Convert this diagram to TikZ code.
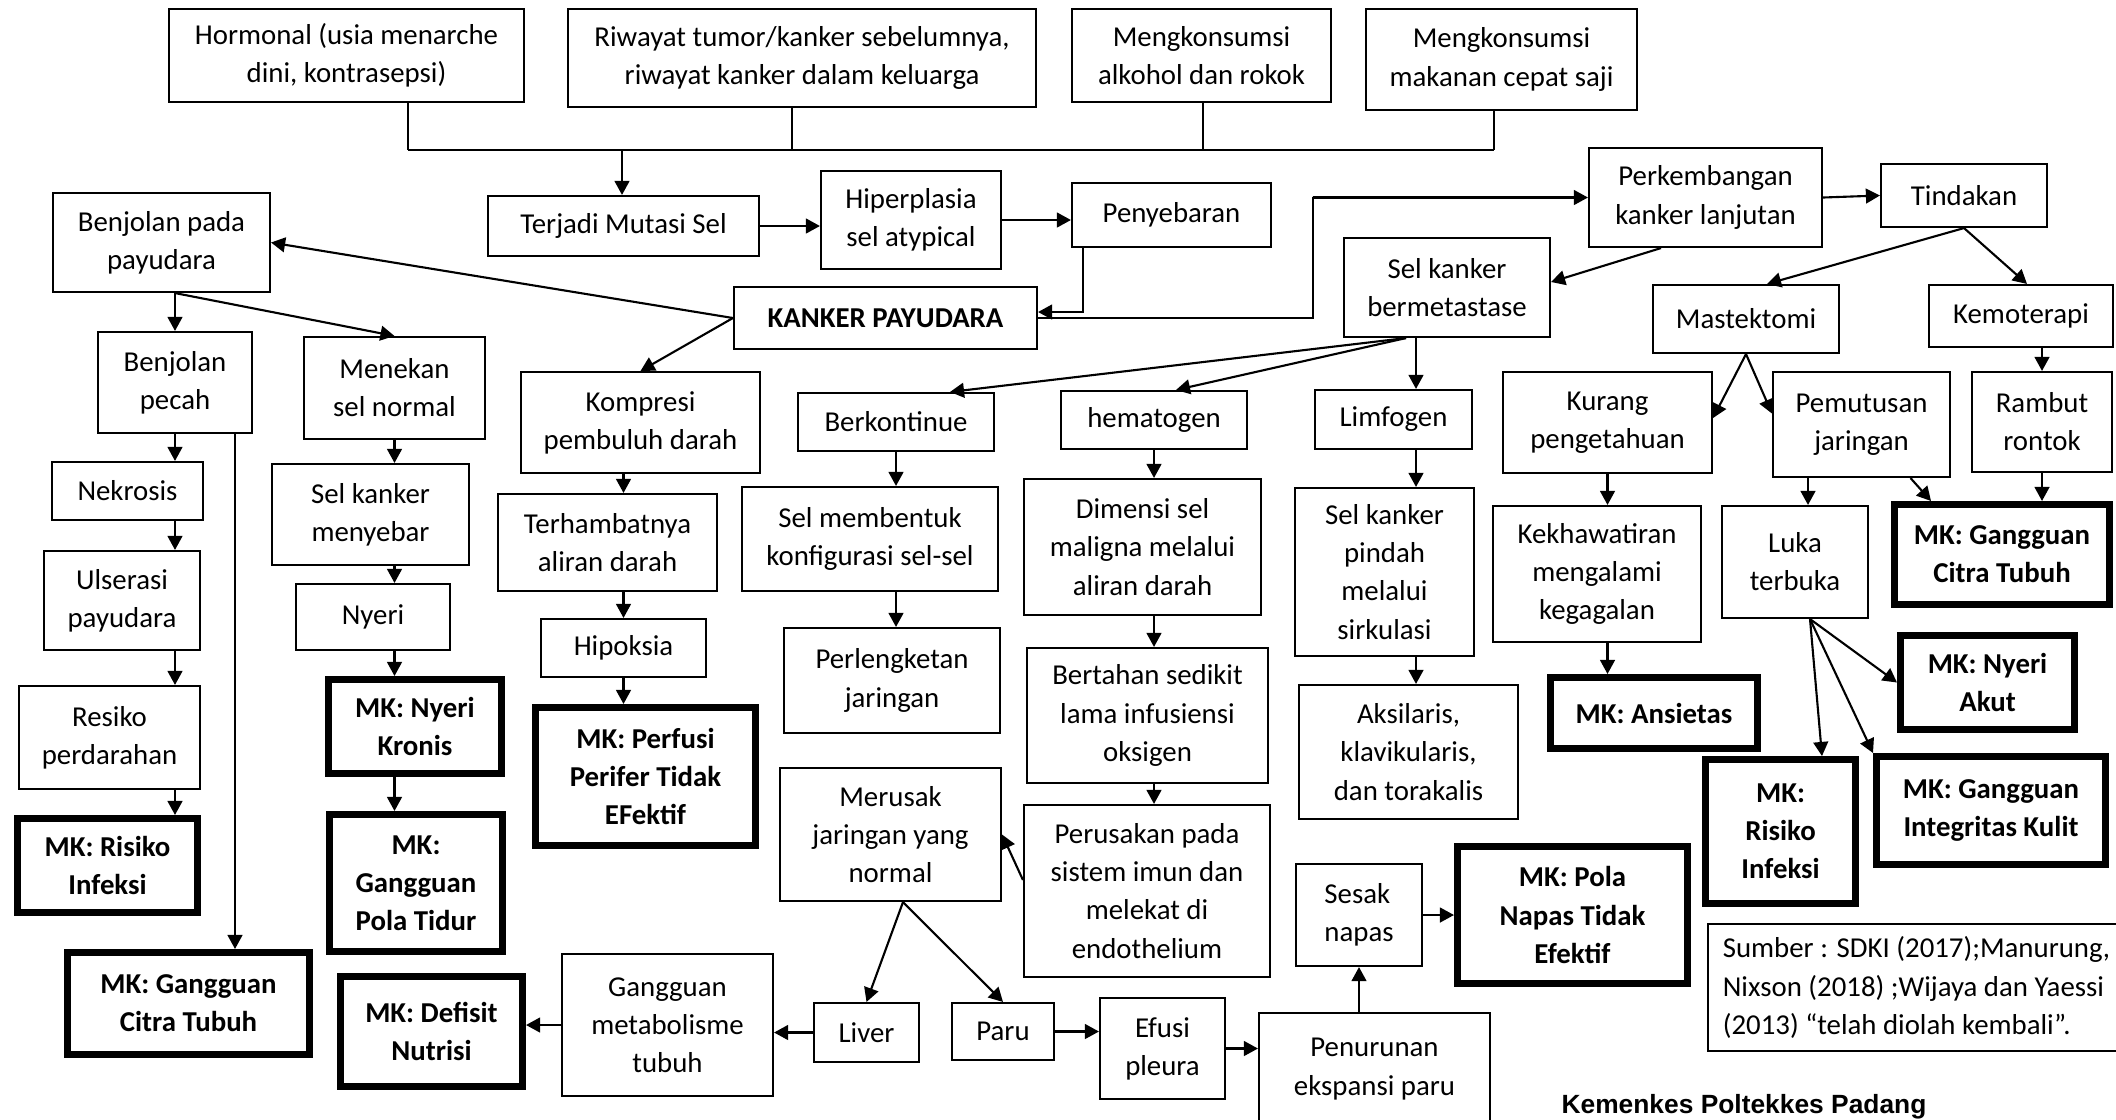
\documentclass[tikz,border=0pt]{standalone}
\usepackage{fontspec}
\setmainfont{Carlito}
\newfontfamily\arialfont{Liberation Sans}
\usetikzlibrary{arrows.meta}

\begin{document}
\begin{tikzpicture}[>={Triangle[length=4pt,width=4.2pt]},line width=0.6pt,
  box/.style={draw,line width=0.6pt,align=center,inner sep=1pt,font=\fontsize{8.2}{10.85}\selectfont},
  mk/.style={box,line width=2pt,font=\fontsize{8.2}{10.85}\selectfont\bfseries},
  sz/.style 2 args={minimum width=#1cm,minimum height=#2cm}]
  \useasboundingbox (0,0) rectangle (21.16,-11.19);
  \node[box,sz={3.55}{0.93}] (hormonal) at (3.465,-0.555) {Hormonal (usia menarche\\dini, kontrasepsi)};
  \node[box,sz={4.68}{0.98}] (riwayat) at (8.02,-0.58) {Riwayat tumor/kanker sebelumnya,\\riwayat kanker dalam keluarga};
  \node[box,sz={2.59}{0.93}] (alkohol) at (12.015,-0.555) {Mengkonsumsi\\alkohol dan rokok};
  \node[box,sz={2.71}{1.01}] (makanan) at (15.015,-0.595) {Mengkonsumsi\\makanan cepat saji};
  \node[box,sz={2.71}{0.60}] (mutasi) at (6.235,-2.26) {Terjadi Mutasi Sel};
  \node[box,sz={1.80}{0.98}] (hiperplasia) at (9.11,-2.20) {Hiperplasia\\sel atypical};
  \node[box,sz={1.99}{0.64}] (penyebaran) at (11.715,-2.15) {Penyebaran};
  \node[box,sz={3.03}{0.62},font=\fontsize{8.2}{10.85}\selectfont\bfseries] (kanker) at (8.855,-3.18) {KANKER PAYUDARA};
  \node[box,sz={2.17}{0.99}] (benjolan) at (1.615,-2.425) {Benjolan pada\\payudara};
  \node[box,sz={2.33}{0.99}] (perkembangan) at (17.055,-1.975) {Perkembangan\\kanker lanjutan};
  \node[box,sz={1.66}{0.63}] (tindakan) at (19.64,-1.955) {Tindakan};
  \node[box,sz={2.06}{0.99}] (metastase) at (14.47,-2.875) {Sel kanker\\bermetastase};
  \node[box,sz={1.86}{0.68}] (mastektomi) at (17.46,-3.19) {Mastektomi};
  \node[box,sz={1.84}{0.62}] (kemoterapi) at (20.21,-3.16) {Kemoterapi};
  \node[box,sz={1.54}{1.01}] (pecah) at (1.75,-3.825) {Benjolan\\pecah};
  \node[box,sz={1.81}{1.02}] (menekan) at (3.945,-3.88) {Menekan\\sel normal};
  \node[box,sz={2.39}{1.01}] (kompresi) at (6.405,-4.225) {Kompresi\\pembuluh darah};
  \node[box,sz={1.96}{0.58}] (berkontinue) at (8.96,-4.22) {Berkontinue};
  \node[box,sz={1.86}{0.58}] (hematogen) at (11.54,-4.20) {hematogen};
  \node[box,sz={1.57}{0.59}] (limfogen) at (13.935,-4.195) {Limfogen};
  \node[box,sz={2.09}{1.01}] (kurang) at (16.075,-4.225) {Kurang\\pengetahuan};
  \node[box,sz={1.77}{1.05}] (pemutusan) at (18.615,-4.245) {Pemutusan\\jaringan};
  \node[box,sz={1.40}{1.00}] (rambut) at (20.42,-4.22) {Rambut\\rontok};
  \node[box,sz={1.51}{0.58}] (nekrosis) at (1.275,-4.91) {Nekrosis};
  \node[box,sz={1.56}{0.99}] (ulserasi) at (1.22,-6.005) {Ulserasi\\payudara};
  \node[box,sz={1.81}{1.03}] (resiko) at (1.095,-7.375) {Resiko\\perdarahan};
  \node[mk,sz={1.80}{0.94}] (mkinfeksiA) at (1.075,-8.655) {MK: Risiko\\Infeksi};
  \node[mk,sz={2.42}{1.02}] (mkcitraA) at (1.885,-10.035) {MK: Gangguan\\Citra Tubuh};
  \node[box,sz={1.97}{1.01}] (menyebar) at (3.705,-5.145) {Sel kanker\\menyebar};
  \node[box,sz={1.54}{0.66}] (nyeri) at (3.73,-6.17) {Nyeri};
  \node[mk,sz={1.73}{0.94}] (mkkronis) at (4.15,-7.265) {MK: Nyeri\\Kronis};
  \node[mk,sz={1.73}{1.37}] (mktidur) at (4.16,-8.83) {MK:\\Gangguan\\Pola Tidur};
  \node[mk,sz={1.82}{1.10}] (mknutrisi) at (4.315,-10.315) {MK: Defisit\\Nutrisi};
  \node[box,sz={2.11}{1.42}] (metabolisme) at (6.675,-10.25) {Gangguan\\metabolisme\\tubuh};
  \node[box,sz={2.19}{0.97}] (terhambat) at (6.075,-5.425) {Terhambatnya\\aliran darah};
  \node[box,sz={1.65}{0.58}] (hipoksia) at (6.235,-6.48) {Hipoksia};
  \node[mk,sz={2.20}{1.38}] (mkperfusi) at (6.455,-7.765) {MK: Perfusi\\Perifer Tidak\\EFektif};
  \node[box,sz={2.56}{1.04}] (membentuk) at (8.70,-5.39) {Sel membentuk\\konfigurasi sel-sel};
  \node[box,sz={2.16}{1.05}] (perlengketan) at (8.92,-6.805) {Perlengketan\\jaringan};
  \node[box,sz={2.21}{1.33}] (merusak) at (8.905,-8.345) {Merusak\\jaringan yang\\normal};
  \node[box,sz={1.05}{0.59}] (liver) at (8.665,-10.325) {Liver};
  \node[box,sz={1.02}{0.57}] (paru) at (10.03,-10.315) {Paru};
  \node[box,sz={1.25}{1.01}] (efusi) at (11.625,-10.485) {Efusi\\pleura};
  \node[box,sz={2.31}{1.12}] (penurunan) at (13.745,-10.69) {Penurunan\\ekspansi paru};
  \node[box,sz={1.26}{1.02},align=left] (sesak) at (13.59,-9.15) {Sesak\\napas};
  \node[mk,sz={2.30}{1.37}] (mkpola) at (15.725,-9.15) {MK: Pola\\Napas Tidak\\Efektif};
  \node[box,sz={2.37}{1.36}] (dimensi) at (11.425,-5.47) {Dimensi sel\\maligna melalui\\aliran darah};
  \node[box,sz={2.41}{1.35}] (bertahan) at (11.475,-7.155) {Bertahan sedikit\\lama infusiensi\\oksigen};
  \node[box,sz={2.46}{1.72}] (perusakan) at (11.47,-8.91) {Perusakan pada\\sistem imun dan\\melekat di\\endothelium};
  \node[box,sz={1.79}{1.68}] (pindah) at (13.845,-5.72) {Sel kanker\\pindah\\melalui\\sirkulasi};
  \node[box,sz={2.19}{1.34}] (aksilaris) at (14.085,-7.52) {Aksilaris,\\klavikularis,\\dan torakalis};
  \node[box,sz={2.08}{1.36}] (khawatir) at (15.97,-5.74) {Kekhawatiran\\mengalami\\kegagalan};
  \node[mk,sz={2.07}{0.71}] (mkansietas) at (16.54,-7.13) {MK: Ansietas};
  \node[box,sz={1.46}{1.12}] (luka) at (17.95,-5.62) {Luka\\terbuka};
  \node[mk,sz={2.15}{1.00}] (mkcitraB) at (20.02,-5.545) {MK: Gangguan\\Citra Tubuh};
  \node[mk,sz={1.74}{0.94}] (mknyeri) at (19.875,-6.825) {MK: Nyeri\\Akut};
  \node[mk,sz={1.50}{1.44}] (mkinfeksiB) at (17.805,-8.315) {MK:\\Risiko\\Infeksi};
  \node[mk,sz={2.29}{1.08}] (mkkulit) at (19.91,-8.105) {MK: Gangguan\\Integritas Kulit};
  \node[box,sz={4.17}{1.27},align=left] (sumber) at (19.165,-9.875) {Sumber : SDKI (2017);Manurung,\\Nixson (2018) ;Wijaya dan Yaessi\\(2013) “telah diolah kembali”.};
  \node[font=\arialfont\bfseries\fontsize{7.5}{9}\selectfont,anchor=base] (kemenkes) at (17.44,-11.13) {Kemenkes Poltekkes Padang};
  \coordinate (j1) at (4.08,-1.50);
  \coordinate (j2) at (7.92,-1.50);
  \coordinate (j3) at (12.03,-1.50);
  \coordinate (j4) at (14.94,-1.50);
  \coordinate (j0) at (6.22,-1.50);
  \draw (j1) -- (j4);
  \draw (hormonal.south -| j1) -- (j1);
  \draw (riwayat.south -| j2) -- (j2);
  \draw (alkohol.south -| j3) -- (j3);
  \draw (makanan.south -| j4) -- (j4);
  \draw[->] (j0) -- (mutasi.north -| j0);
  \draw[->] (mutasi.east) -- (mutasi.east -| hiperplasia.west);
  \draw[->] (hiperplasia.east) -- (hiperplasia.east -| penyebaran.west);
  \coordinate (c1) at (10.83,0);
  \draw[->] (penyebaran.south -| c1) |- ([yshift=0.6mm]kanker.east);
  \coordinate (c2) at (13.13,-1.97);
  \draw[->] (kanker.east) -| (c2) |- (perkembangan.west);
  \draw[->] (perkembangan.east) -- (tindakan.west);
  \draw[->] ([xshift=-4.45mm]perkembangan.south) -- ([yshift=0.55mm]metastase.east);
  \draw[->] (tindakan.south) -- ([xshift=2.1mm]mastektomi.north);
  \draw[->] (tindakan.south) -- ([xshift=0.6mm]kemoterapi.north);
  \draw[->] (kemoterapi.south -| rambut.north) -- (rambut.north);
  \draw[->] (mastektomi.south) -- ([yshift=0.45mm]kurang.east);
  \draw[->] (mastektomi.south) -- ([yshift=1.1mm]pemutusan.west);
  \draw[->] (kurang.south) -- (kurang.south |- khawatir.north);
  \draw[->] (khawatir.south -| kurang.south) -- (mkansietas.north -| kurang.south);
  \coordinate (c3) at (18.08,0);
  \draw[->] (pemutusan.south -| c3) -- (luka.north -| c3);
  \draw[->] ([xshift=4.9mm]pemutusan.south) -- ([xshift=-7.1mm]mkcitraB.north);
  \draw[->] (rambut.south) -- (rambut.south |- mkcitraB.north);
  \draw[->] ([xshift=1.5mm]luka.south) -- (mknyeri.west);
  \draw[->] ([xshift=1.5mm]luka.south) -- ([xshift=4.15mm]mkinfeksiB.north);
  \draw[->] ([xshift=1.5mm]luka.south) -- (mkkulit.north west);
  \draw[->] (kanker.west) -- (benjolan.east);
  \draw[->] (kanker.west) -- (kompresi.north);
  \draw[->] (benjolan.south -| pecah.north) -- (pecah.north);
  \draw[->] (benjolan.south -| pecah.north) -- (menekan.north);
  \draw[->] (pecah.south) -- (pecah.south |- nekrosis.north);
  \draw[->] (nekrosis.south -| pecah.south) -- (ulserasi.north -| pecah.south);
  \draw[->] (ulserasi.south -| pecah.south) -- (resiko.north -| pecah.south);
  \draw[->] (resiko.south -| pecah.south) -- (mkinfeksiA.north -| pecah.south);
  \coordinate (c4) at (2.35,0);
  \draw[->] (pecah.south -| c4) -- (mkcitraA.north -| c4);
  \draw[->] (menekan.south) -- (menekan.south |- menyebar.north);
  \draw[->] (menyebar.south -| menekan.south) -- (nyeri.north -| menekan.south);
  \draw[->] (nyeri.south -| menekan.south) -- (mkkronis.north -| menekan.south);
  \draw[->] (mkkronis.south -| menekan.south) -- (mktidur.north -| menekan.south);
  \draw[->] (kompresi.south -| hipoksia.north) -- (terhambat.north -| hipoksia.north);
  \draw[->] (terhambat.south -| hipoksia.north) -- (hipoksia.north);
  \draw[->] (hipoksia.south) -- (hipoksia.south |- mkperfusi.north);
  \draw[->] ([xshift=-4.1mm]metastase.south) -- ([xshift=5.4mm]berkontinue.north);
  \draw[->] ([xshift=-4.1mm]metastase.south) -- ([xshift=2.2mm]hematogen.north);
  \coordinate (c5) at (14.16,0);
  \draw[->] (metastase.south -| c5) -- (limfogen.north -| c5);
  \draw[->] (limfogen.south -| c5) -- (pindah.north -| c5);
  \draw[->] (pindah.south -| c5) -- (aksilaris.north -| c5);
  \draw[->] (berkontinue.south) -- (berkontinue.south |- membentuk.north);
  \draw[->] (membentuk.south -| berkontinue.south) -- (perlengketan.north -| berkontinue.south);
  \draw[->] (hematogen.south) -- (hematogen.south |- dimensi.north);
  \draw[->] (dimensi.south -| hematogen.south) -- (bertahan.north -| hematogen.south);
  \draw[->] (bertahan.south -| hematogen.south) -- (perusakan.north -| hematogen.south);
  \draw[->] ([yshift=1.1mm]perusakan.west) -- (merusak.east);
  \draw[->] ([xshift=1.25mm]merusak.south) -- (liver.north);
  \draw[->] ([xshift=1.25mm]merusak.south) -- (paru.north);
  \draw[->] (liver.west) -- (liver.west -| metabolisme.east);
  \draw[->] (metabolisme.west) -- (metabolisme.west -| mknutrisi.east);
  \draw[->] (paru.east) -- (paru.east -| efusi.west);
  \draw[->] (efusi.east) -- (efusi.east -| penurunan.west);
  \draw[->] (penurunan.north -| sesak.south) -- (sesak.south);
  \draw[->] (sesak.east) -- (sesak.east -| mkpola.west);
\end{tikzpicture}
\end{document}
